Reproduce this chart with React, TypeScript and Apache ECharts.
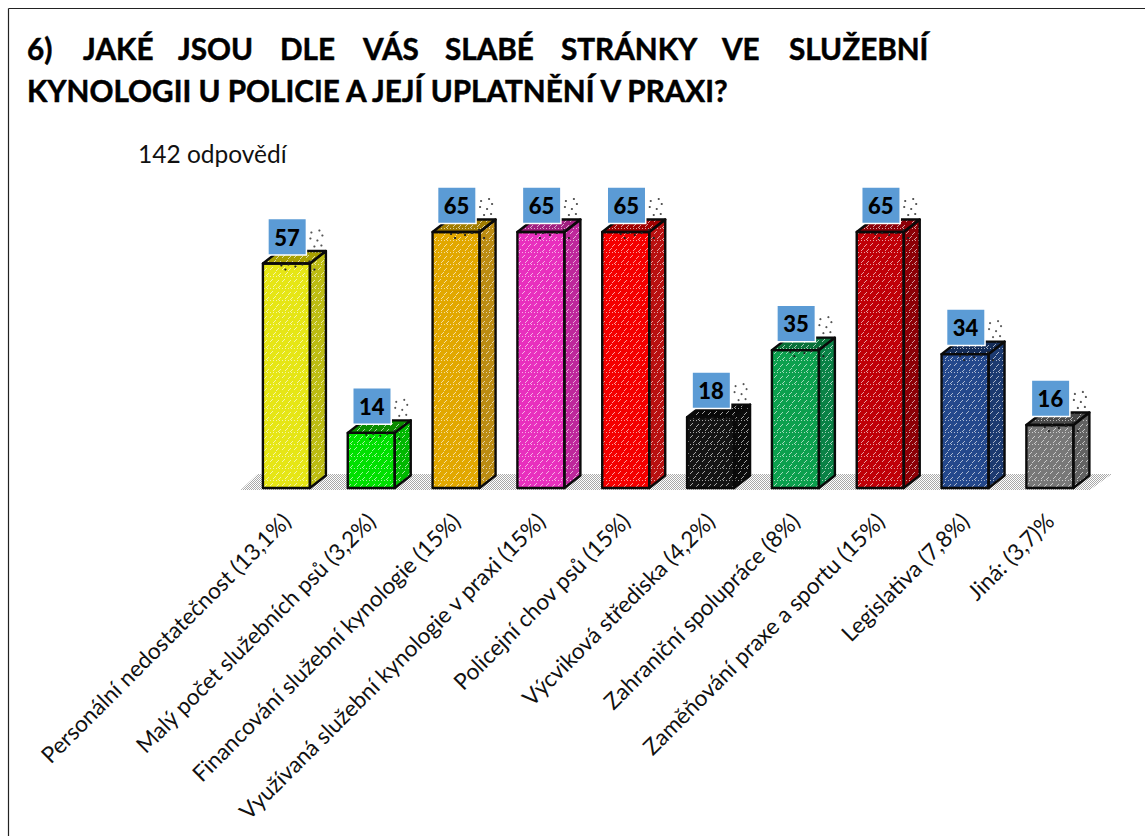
import React, { useEffect, useRef } from "react";
import * as echarts from "echarts";

const categories = [
  "Personální nedostatečnost (13,1%)",
  "Malý počet služebních psů (3,2%)",
  "Financování služební kynologie (15%)",
  "Využívaná služební kynologie v praxi (15%)",
  "Policejní chov psů (15%)",
  "Výcviková střediska (4,2%)",
  "Zahraniční spolupráce (8%)",
  "Zaměňování praxe a sportu (15%)",
  "Legislativa (7,8%)",
  "Jiná: (3,7)%",
];
const values = [57, 14, 65, 65, 65, 18, 35, 65, 34, 16];
const frontColors = ["#E6E615", "#00E000", "#E2A800", "#E830BE", "#F40000", "#141414", "#0CA04E", "#C00008", "#24488C", "#787878"];
const sideColors = ["#BDBD12", "#00B800", "#BC8C12", "#BE289C", "#B81010", "#0C0C0C", "#0A8246", "#8C0006", "#1C3A70", "#626262"];
const topColors = ["#A8A000", "#0A8C00", "#A07C00", "#A02080", "#A00000", "#080808", "#087038", "#8C0008", "#142C58", "#4A4A4A"];
const titleLine1 = [
  ["6)", 27], ["JAKÉ", 83], ["JSOU", 178], ["DLE", 280], ["VÁS", 363],
  ["SLABÉ", 445], ["STRÁNKY", 561], ["VE", 722], ["SLUŽEBNÍ", 789],
] as [string, number][];
const titleLine2 = "KYNOLOGII U POLICIE A JEJÍ UPLATNĚNÍ V PRAXI?";
const responses = "142 odpovědí";
const speckOffsets = [[25, -31], [33, -33], [36, -28], [24, -25], [31, -23], [28, -17], [35, -18]];
const topSpeckOffsets = [[-5, 2], [2, 1], [9, 3], [16, 1], [23, -2], [28, 6], [-1, 6]];

const FONT = "Lato, 'Noto Sans', sans-serif";

function makeTile(size: number, color: string, dots: number[][]) {
  const c = document.createElement("canvas");
  c.width = size;
  c.height = size;
  const g = c.getContext("2d")!;
  g.fillStyle = color;
  dots.forEach(([x, y]) => g.fillRect(x, y, 1, 1));
  return c;
}

export default function App() {
  const ref = useRef<HTMLDivElement>(null);
  useEffect(() => {
    const chart = echarts.init(ref.current!, undefined, { renderer: "svg" });
    const whiteDots = {
      image: makeTile(12, "rgba(255,255,255,0.62)", [
        [0, 0], [3, 0], [6, 0], [9, 0],
        [8, 3], [7, 4], [6, 5],
        [2, 4], [1, 5], [0, 6],
        [11, 8], [10, 9], [9, 10],
        [4, 9], [3, 10], [2, 11],
      ]),
      repeat: "repeat",
    };
    const floorDots = {
      image: makeTile(4, "#a8a8a8", [[0, 0], [2, 0], [1, 1], [3, 1], [0, 2], [3, 3], [1, 3], [2, 2]]),
      repeat: "repeat",
    };
    chart.setOption({
      animation: false,
      grid: { left: 244, width: 848.3, top: 212.3, height: 275.7, containLabel: false },
      xAxis: {
        type: "category",
        data: categories,
        axisLine: { show: false },
        axisTick: { show: false },
        axisLabel: { interval: 0, rotate: 45, margin: 29, fontFamily: FONT, fontSize: 22.6, color: "#111" },
      },
      yAxis: { type: "value", min: 0, max: 70, show: false },
      series: [
        {
          type: "custom",
          name: "floor",
          z: 1,
          silent: true,
          data: [0],
          renderItem: (_p: any, api: any) => {
            const band = api.size([1, 0])[0];
            const [x, y] = api.coord([0, 0]);
            const [xEnd] = api.coord([9, 0]);
            return {
              type: "polygon",
              shape: {
                points: [
                  [x - band * 0.54, y + 2],
                  [x - band * 0.34, y - 14],
                  [xEnd + band * 0.73, y - 14],
                  [xEnd + band * 0.47, y + 2],
                ],
              },
              style: { fill: floorDots, stroke: null },
            };
          },
        },
        {
          type: "custom",
          name: "odpovědi",
          z: 2,
          silent: true,
          data: values.map((v, i) => [i, v]),
          encode: { x: 0, y: 1 },
          renderItem: (p: any, api: any) => {
            const i = p.dataIndex;
            const [cx, top] = api.coord([api.value(0), api.value(1)]);
            const [, base] = api.coord([api.value(0), 0]);
            const w = api.size([1, 0])[0] * 0.554;
            const dx = 16;
            const dy = 12.5;
            const x0 = cx - w / 2;
            const x1 = cx + w / 2;
            const line = { stroke: "#0a0a0a", lineWidth: 2.4, lineJoin: "round" };
            const front = [[x0, top], [x1, top], [x1, base], [x0, base]];
            const side = [[x1, top], [x1 + dx, top - dy], [x1 + dx, base - dy], [x1, base]];
            const topFace = [[x0, top], [x0 + dx, top - dy], [x1 + dx, top - dy], [x1, top]];
            const poly = (points: number[][], fill: any, extra: any = {}) => ({
              type: "polygon",
              shape: { points },
              style: { fill, ...extra },
            });
            const dot = ([ox, oy]: number[], fill: string) => ({
              type: "circle",
              shape: { cx: cx + ox, cy: top + oy, r: 1.1 },
              style: { fill },
            });
            return {
              type: "group",
              children: [
                poly(side, sideColors[i]),
                poly(side, whiteDots),
                poly(topFace, topColors[i]),
                poly(topFace, whiteDots),
                poly(front, frontColors[i]),
                poly(front, whiteDots),
                poly(side, "none", line),
                poly(topFace, "none", line),
                poly(front, "none", line),
                ...speckOffsets.map((o) => dot(o, "#555")),
                ...topSpeckOffsets.map((o) => dot(o, "#222")),
                {
                  type: "rect",
                  shape: { x: cx - 18.5, y: top - 45, width: 38.5, height: 36.5 },
                  style: { fill: "#5B9BD5", stroke: "#fff", lineWidth: 1.5 },
                },
                {
                  type: "text",
                  x: cx + 0.5,
                  y: top - 26.5,
                  style: {
                    text: String(api.value(1)),
                    fontFamily: FONT,
                    fontSize: 22,
                    fontWeight: 900,
                    fill: "#000",
                    align: "center",
                    verticalAlign: "middle",
                  },
                },
              ],
            };
          },
        },
      ],
      graphic: [
        { type: "line", shape: { x1: 8.5, y1: 8.5, x2: 1145, y2: 8.5 }, style: { stroke: "#222", lineWidth: 1.2 } },
        { type: "line", shape: { x1: 8.5, y1: 8.5, x2: 8.5, y2: 836 }, style: { stroke: "#222", lineWidth: 1.2 } },
        ...titleLine1.map(([text, x]) => ({
          type: "text",
          x,
          y: 33,
          style: { text, fontFamily: FONT, fontSize: 29.7, fontWeight: 700, fill: "#000", stroke: "#000", lineWidth: 0.5 },
        })),
        {
          type: "text",
          x: 27,
          y: 75,
          style: { text: titleLine2, fontFamily: FONT, fontSize: 29.7, fontWeight: 700, fill: "#000", stroke: "#000", lineWidth: 0.5 },
        },
        {
          type: "text",
          x: 138,
          y: 141,
          style: { text: responses, fontFamily: FONT, fontSize: 24.5, fill: "#111" },
        },
      ],
    });
    return () => chart.dispose();
  }, []);
  return <div ref={ref} style={{ position: "fixed", left: 0, top: 0, width: 1145, height: 836, background: "#fff" }} />;
}
